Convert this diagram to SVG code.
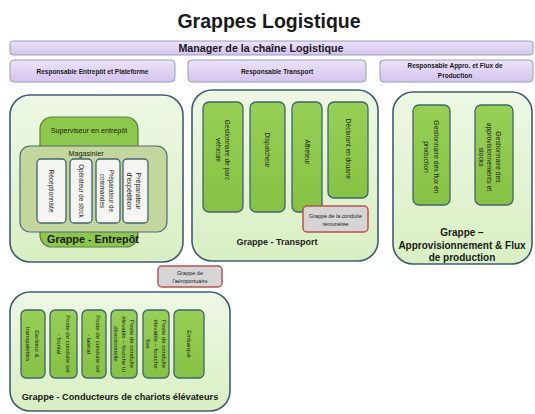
<svg xmlns="http://www.w3.org/2000/svg" width="535" height="414" viewBox="0 0 535 414">
<defs>
<linearGradient id="gClu" x1="0" y1="0" x2="0" y2="1">
<stop offset="0" stop-color="#eef8e4"/>
<stop offset="1" stop-color="#d8efc2"/>
</linearGradient>
<linearGradient id="gPur" x1="0" y1="0" x2="0" y2="1">
<stop offset="0" stop-color="#ebe3f8"/>
<stop offset="1" stop-color="#d3c4ee"/>
</linearGradient>
<linearGradient id="gGrn" x1="0" y1="0" x2="0" y2="1">
<stop offset="0" stop-color="#96d055"/>
<stop offset="1" stop-color="#86c244"/>
</linearGradient>
</defs>
<style>
text{font-family:"Liberation Sans",Arial,sans-serif;fill:#1a1a1a}
.clu{fill:url(#gClu);stroke:#3e5c7a;stroke-width:1.6}
.pur{fill:url(#gPur);stroke:#9a9cbc;stroke-width:1}
.grn{fill:url(#gGrn);stroke:#3f6470;stroke-width:1.3}
.sup{fill:#8cc84a;stroke:#557f3a;stroke-width:1.2}
.mag{fill:#c3d69c;stroke:#4f6b7e;stroke-width:1.2}
.wht{fill:#f4f4f0;stroke:#3f6470;stroke-width:1.3}
.red{fill:#d5d5d5;stroke:#c0504d;stroke-width:1.5}
.b{font-weight:bold;text-anchor:middle}
.c{text-anchor:middle}
.vt{text-anchor:middle;dominant-baseline:central}
</style>
<text class="b" x="269" y="28" font-size="19.5">Grappes Logistique</text>

<g id="manager">
<rect class="pur" x="10" y="41" width="523" height="14" rx="3"/>
<text class="b" x="261" y="51.8" font-size="10.7">Manager de la chaîne Logistique</text>
</g>
<g id="resp-entrepot">
<rect class="pur" x="10" y="60" width="165" height="22" rx="4"/>
<text class="b" x="92.5" y="73.5" font-size="6.5">Responsable Entrepôt et Plateforme</text>
</g>
<g id="resp-transport">
<rect class="pur" x="188" y="60" width="178" height="22" rx="4"/>
<text class="b" x="277" y="73.5" font-size="6.5">Responsable Transport</text>
</g>
<g id="resp-appro">
<rect class="pur" x="380" y="60" width="153" height="22" rx="4"/>
<text class="b" x="455" y="67.8" font-size="6.5">Responsable Appro. et Flux de</text>
<text class="b" x="455" y="78.3" font-size="6.5">Production</text>
</g>

<g id="grappe-entrepot">
<rect class="clu" x="10" y="95" width="173" height="167" rx="20"/>
<g id="superviseur">
<rect class="sup" x="40" y="117" width="98" height="130" rx="12"/>
<text class="c" x="89" y="132.5" font-size="7.2">Superviseur en entrepôt</text>
</g>
<g id="magasinier">
<rect class="mag" x="20" y="146" width="147" height="86" rx="10"/>
<text class="c" x="86" y="155.5" font-size="7.2">Magasinier</text>
</g>
<g id="receptionniste">
<rect class="wht" x="37" y="159" width="29" height="64" rx="4"/>
<text class="vt" transform="translate(51.5,191) rotate(90)" font-size="6.5">Réceptionniste</text>
</g>
<g id="operateur-stock">
<rect class="wht" x="70" y="159" width="22" height="64" rx="4"/>
<text class="vt" transform="translate(81,191) rotate(90)" font-size="6.3">Opérateur de stock</text>
</g>
<g id="preparateur-commandes">
<rect class="wht" x="96" y="159" width="24" height="64" rx="4"/>
<text class="vt" transform="translate(108,191) rotate(90)" font-size="6.3"><tspan x="0" y="-3.5">Préparateur de</tspan><tspan x="0" y="5.5">commandes</tspan></text>
</g>
<g id="preparateur-expedition">
<rect class="wht" x="123" y="159" width="25" height="64" rx="4"/>
<text class="vt" transform="translate(135.5,191) rotate(90)" font-size="7"><tspan x="0" y="-3.5">Préparateur</tspan><tspan x="0" y="5.5">d'expédition</tspan></text>
</g>
<text class="b" x="93" y="243" font-size="10.8">Grappe - Entrepôt</text>
</g>

<g id="grappe-transport">
<rect class="clu" x="192" y="90" width="186" height="171" rx="20"/>
<g id="gestionnaire-parc">
<rect class="grn" x="203" y="102" width="40" height="110" rx="6"/>
<text class="vt" transform="translate(223,150) rotate(90)" font-size="6.5"><tspan x="0" y="-5">Gestionnaire de parc</tspan><tspan x="0" y="4.5">véhicule</tspan></text>
</g>
<g id="dispatcheur">
<rect class="grn" x="250" y="102" width="35" height="110" rx="6"/>
<text class="vt" transform="translate(267.5,150) rotate(90)" font-size="6.5">Dispatcheur</text>
</g>
<g id="affreteur">
<rect class="grn" x="292" y="102" width="30" height="110" rx="6"/>
<text class="vt" transform="translate(307,152) rotate(90)" font-size="6.5">Affréteur</text>
</g>
<g id="declarant">
<rect class="grn" x="328" y="102" width="40" height="96" rx="6"/>
<text class="vt" transform="translate(348,149) rotate(90)" font-size="6.5">Déclarant en douane</text>
</g>
<g id="grappe-conduite">
<rect class="red" x="303" y="206" width="65" height="26" rx="4"/>
<text class="c" x="335.5" y="217.8" font-size="5.4">Grappe de la conduite</text>
<text class="c" x="335.5" y="225.5" font-size="5.4">rémunérée</text>
</g>
<text class="b" x="277" y="245" font-size="9">Grappe - Transport</text>
</g>

<g id="grappe-appro">
<rect class="clu" x="393" y="92" width="139" height="172" rx="20"/>
<g id="gestionnaire-flux">
<rect class="grn" x="413" y="105" width="37" height="100" rx="6"/>
<text class="vt" transform="translate(431.5,157) rotate(90)" font-size="6.8"><tspan x="0" y="-5">Gestionnaire des flux en</tspan><tspan x="0" y="4.5">production</tspan></text>
</g>
<g id="gestionnaire-appro">
<rect class="grn" x="475" y="105" width="38" height="100" rx="6"/>
<text class="vt" transform="translate(494,157) rotate(90)" font-size="6.8"><tspan x="0" y="-4.5">Gestionnaire des</tspan><tspan x="0" y="4">approvisionnements et</tspan><tspan x="0" y="12.5">stocks</tspan></text>
</g>
<text class="b" x="462" y="236" font-size="10">Grappe –</text>
<text class="b" x="462" y="248.5" font-size="10">Approvisionnement &amp; Flux</text>
<text class="b" x="462" y="261" font-size="10">de production</text>
</g>

<g id="grappe-aeroportuaire">
<rect class="red" x="158" y="266" width="64" height="21" rx="4"/>
<text class="c" x="190" y="275" font-size="5.5">Grappe de</text>
<text class="c" x="190" y="283" font-size="5.5">l'aéroportuaire</text>
</g>

<g id="grappe-chariots">
<rect class="clu" x="10" y="292" width="220" height="119" rx="20"/>
<g id="gerbeur">
<rect class="grn" x="21" y="310" width="24" height="68" rx="5"/>
<text class="vt" transform="translate(33,344) rotate(90)" font-size="6"><tspan x="0" y="-4">Gerbeur &amp;</tspan><tspan x="0" y="5">transpalettes</tspan></text>
</g>
<g id="sol-frontal">
<rect class="grn" x="50" y="310" width="27" height="68" rx="5"/>
<text class="vt" transform="translate(63.5,344) rotate(90)" font-size="6"><tspan x="0" y="-4">Poste de conduite sol</tspan><tspan x="0" y="5">- frontal</tspan></text>
</g>
<g id="sol-lateral">
<rect class="grn" x="82" y="310" width="24" height="68" rx="5"/>
<text class="vt" transform="translate(94,344) rotate(90)" font-size="6"><tspan x="0" y="-4">Poste de conduite sol</tspan><tspan x="0" y="5">- latéral</tspan></text>
</g>
<g id="elevable-tri">
<rect class="grn" x="111" y="310" width="26" height="68" rx="5"/>
<text class="vt" transform="translate(124,344) rotate(90)" font-size="6"><tspan x="0" y="-8">Poste de conduite</tspan><tspan x="0" y="0">élevable – fourche tri</tspan><tspan x="0" y="8">directionnelle</tspan></text>
</g>
<g id="elevable-fixe">
<rect class="grn" x="143" y="310" width="26" height="68" rx="5"/>
<text class="vt" transform="translate(156,344) rotate(90)" font-size="6"><tspan x="0" y="-8">Poste de conduite</tspan><tspan x="0" y="0">élevable – fourche</tspan><tspan x="0" y="8">fixe</tspan></text>
</g>
<g id="embarque">
<rect class="grn" x="174" y="310" width="30" height="68" rx="5"/>
<text class="vt" transform="translate(189,344) rotate(90)" font-size="6">Embarqué</text>
</g>
<text class="b" x="120" y="400" font-size="9.2">Grappe - Conducteurs de chariots élévateurs</text>
</g>

<g id="connectors"/>
</svg>
